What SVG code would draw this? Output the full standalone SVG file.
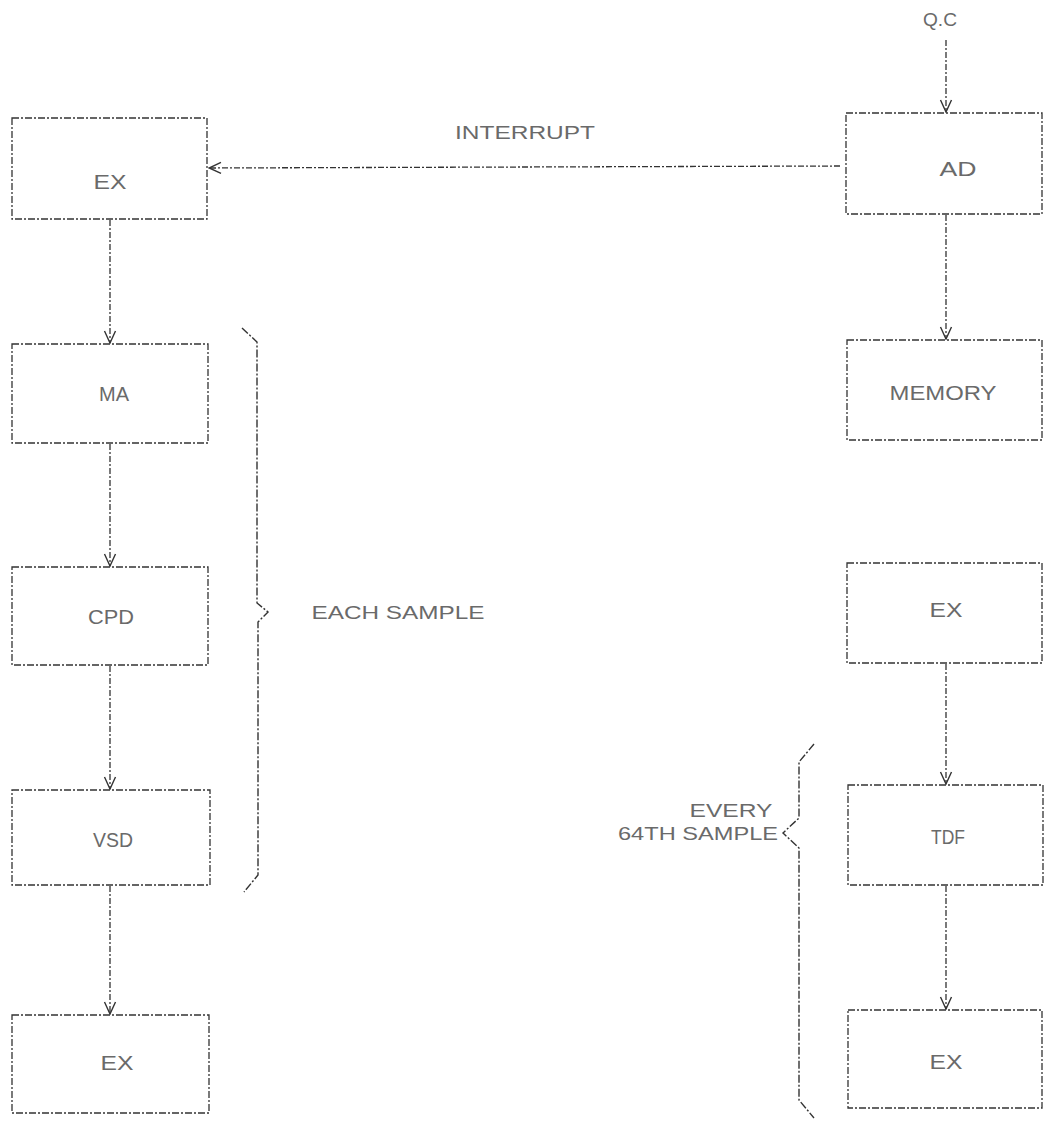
<svg xmlns="http://www.w3.org/2000/svg" width="1046" height="1128" viewBox="0 0 1046 1128">
<style>
.box{fill:none;stroke:#333;stroke-width:1.3;stroke-dasharray:7 2 2 2}
.ln{fill:none;stroke:#333;stroke-width:1.3;stroke-dasharray:6 2 2 2}
.br{fill:none;stroke:#333;stroke-width:1.4;stroke-dasharray:8 2 2 2}
.t{font-family:"Liberation Sans",Arial,sans-serif;font-size:20px;fill:#6a6a6a;text-anchor:middle}
.s{font-size:18px}
</style>
<defs>
<marker id="ah" viewBox="0 0 14 14" refX="13" refY="7" markerWidth="14" markerHeight="14" markerUnits="userSpaceOnUse" orient="auto">
<path d="M1,1.5 L13,7 L1,12.5" fill="none" stroke="#333" stroke-width="1.4"/>
</marker>
</defs>
<rect width="1046" height="1128" fill="#fff"/>
<g id="connectors">
<line class="ln" x1="946" y1="40" x2="946" y2="112" marker-end="url(#ah)"/>
<line class="ln" x1="840" y1="166" x2="209" y2="168" marker-end="url(#ah)"/>
<line class="ln" x1="946" y1="215" x2="946" y2="339" marker-end="url(#ah)"/>
<line class="ln" x1="110" y1="220" x2="110" y2="343" marker-end="url(#ah)"/>
<line class="ln" x1="110" y1="444" x2="110" y2="566" marker-end="url(#ah)"/>
<line class="ln" x1="110" y1="666" x2="110" y2="789" marker-end="url(#ah)"/>
<line class="ln" x1="110" y1="886" x2="110" y2="1014" marker-end="url(#ah)"/>
<line class="ln" x1="946" y1="664" x2="946" y2="784" marker-end="url(#ah)"/>
<line class="ln" x1="946" y1="886" x2="946" y2="1009" marker-end="url(#ah)"/>
</g>
<g id="ex1"><rect class="box" x="12" y="118" width="195" height="101"/><text class="t" x="110" y="189" textLength="33" lengthAdjust="spacingAndGlyphs">EX</text></g>
<g id="ma"><rect class="box" x="12" y="344" width="196" height="99"/><text class="t" x="114" y="401" textLength="30" lengthAdjust="spacingAndGlyphs">MA</text></g>
<g id="cpd"><rect class="box" x="12" y="567" width="196" height="98"/><text class="t" x="111" y="624" textLength="46" lengthAdjust="spacingAndGlyphs">CPD</text></g>
<g id="vsd"><rect class="box" x="12" y="790" width="198" height="95"/><text class="t" x="113" y="847" textLength="40" lengthAdjust="spacingAndGlyphs">VSD</text></g>
<g id="ex2"><rect class="box" x="12" y="1015" width="197" height="98"/><text class="t" x="117" y="1070" textLength="33" lengthAdjust="spacingAndGlyphs">EX</text></g>
<g id="qc"><text class="t s" x="940" y="26" textLength="34" lengthAdjust="spacingAndGlyphs">Q.C</text></g>
<g id="ad"><rect class="box" x="846" y="113" width="196" height="101"/><text class="t" x="958" y="176" textLength="37" lengthAdjust="spacingAndGlyphs">AD</text></g>
<g id="memory"><rect class="box" x="847" y="340" width="195" height="100"/><text class="t" x="943" y="400" textLength="107" lengthAdjust="spacingAndGlyphs">MEMORY</text></g>
<g id="ex3"><rect class="box" x="847" y="563" width="195" height="100"/><text class="t" x="946" y="617" textLength="33" lengthAdjust="spacingAndGlyphs">EX</text></g>
<g id="tdf"><rect class="box" x="848" y="785" width="195" height="100"/><text class="t" x="948" y="844" textLength="34" lengthAdjust="spacingAndGlyphs">TDF</text></g>
<g id="ex4"><rect class="box" x="848" y="1010" width="194" height="98"/><text class="t" x="946" y="1069" textLength="33" lengthAdjust="spacingAndGlyphs">EX</text></g>
<g id="labels">
<text class="t s" x="525" y="139" textLength="140" lengthAdjust="spacingAndGlyphs">INTERRUPT</text>
<text class="t s" x="398" y="619" textLength="173" lengthAdjust="spacingAndGlyphs">EACH SAMPLE</text>
<text class="t s" x="731" y="817" textLength="83" lengthAdjust="spacingAndGlyphs">EVERY</text>
<text class="t s" x="698" y="840" textLength="160" lengthAdjust="spacingAndGlyphs">64TH SAMPLE</text>
</g>
<g id="braces">
<path class="br" d="M242,328 L257,342 L257,603 L268,612 L258,622 L258,875 L244,892"/>
<path class="br" d="M814,744 L799,762 L799,818 L783,833 L799,848 L799,1100 L814,1118"/>
</g>
</svg>
